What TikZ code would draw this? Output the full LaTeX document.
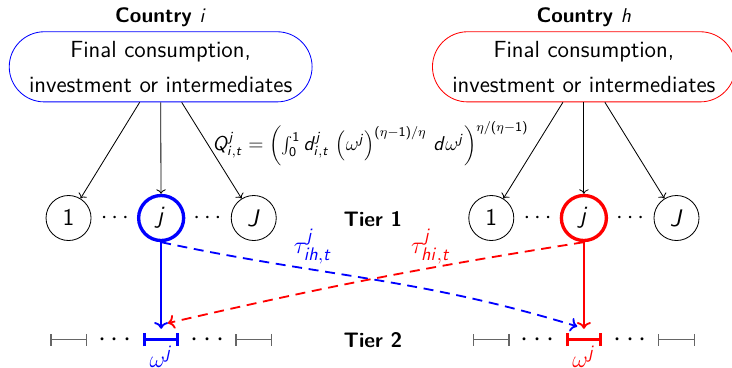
\documentclass[tikz,border=0pt]{standalone}
\usepackage{tikz}
\usetikzlibrary{positioning, arrows.meta, calc}
\DeclareSymbolFont{sfslant}{OT1}{cmss}{m}{sl}
\SetSymbolFont{operators}{normal}{OT1}{cmss}{m}{n}
\newcommand{\sfletter}[1]{\DeclareMathSymbol{#1}{\mathalpha}{sfslant}{`#1}}
\sfletter{Q}\sfletter{J}\sfletter{d}\sfletter{h}\sfletter{i}\sfletter{j}\sfletter{t}
\definecolor{barGray}{HTML}{666666}

\begin{document}
\begin{tikzpicture}[font=\fontsize{14.3}{17}\selectfont\sffamily,
  goal/.style={draw, line width=0.5pt, rounded corners=0.74cm, minimum width=6.39cm, minimum height=1.48cm, align=center, font=\fontsize{14}{21}\selectfont\sffamily},
  ttl/.style={font=\fontsize{12.6}{15}\selectfont\sffamily\bfseries},
  var/.style={draw, circle, line width=0.5pt, minimum size=0.95cm, inner sep=0pt},
  hot/.style={var, line width=2pt},
  bar/.style={minimum width=0.76cm, minimum height=0.45cm, inner sep=0pt},
  barline/.style={barGray, line width=0.8pt, {Bar[width=7pt]}-{Bar[width=7pt]}},
  hotbar/.style={line width=1.8pt, {Bar[width=8pt]}-{Bar[width=8pt]}},
  dashlink/.style={->, line width=1.1pt, dash pattern=on 6pt off 4pt}]
\useasboundingbox (0,0) rectangle (15.445,-7.744);
% top level: the two countries
\node[goal, draw=blue] (boxL) at (3.39,-1.41) {Final consumption,\\investment or intermediates};
\node[goal, draw=red] (boxR) at (12.32,-1.41) {Final consumption,\\investment or intermediates};
\node[ttl, above=-1pt of boxL] (ttlL) {Country $i$};
\node[ttl, above=-1pt of boxR] (ttlR) {Country $h$};
\node[font=\fontsize{11.7}{14}\selectfont\sffamily] (qform) at (7.82,-3.03) {$Q^j_{i,t}=\left(\int_0^1 d^j_{i,t}\,\left(\omega^j\right)^{(\eta-1)/\eta}\,d\omega^j\right)^{\eta/(\eta-1)}$};
% tier 1
\node[hot, draw=blue] (jL) at (3.40,-4.60) {$j$};
\node[var, left=0.96cm of jL] (oneL) {$1$};
\node[var, right=0.96cm of jL] (JL) {$J$};
\node[hot, draw=red] (jR) at (12.32,-4.60) {$j$};
\node[var, left=0.96cm of jR] (oneR) {$1$};
\node[var, right=0.96cm of jR] (JR) {$J$};
\node (dotsL1) at ($(oneL)!0.5!(jL)$) {$\cdots$};
\node (dotsL2) at ($(jL)!0.5!(JL)$) {$\cdots$};
\node (dotsR1) at ($(oneR)!0.5!(jR)$) {$\cdots$};
\node (dotsR2) at ($(jR)!0.5!(JR)$) {$\cdots$};
\node[ttl] (tierA) at (7.87,-4.62) {Tier 1};
\draw[->, line width=0.5pt] ([xshift=-0.443cm]boxL.south) -- (oneL);
\draw[->, line width=0.5pt] (boxL.south) -- (jL);
\draw[->, line width=0.5pt] ([xshift=0.443cm]boxL.south) -- (JL);
\draw[->, line width=0.5pt] ([xshift=-0.443cm]boxR.south) -- (oneR);
\draw[->, line width=0.5pt] (boxR.south) -- (jR);
\draw[->, line width=0.5pt] ([xshift=0.443cm]boxR.south) -- (JR);
% tier 2
\node[ttl] (tierB) at (7.87,-7.17) {Tier 2};
\node[bar] (barL1) at (oneL |- tierB) {};
\node[bar] (barLj) at (jL |- tierB) {};
\node[bar] (barLJ) at (JL |- tierB) {};
\node[bar] (barR1) at (oneR |- tierB) {};
\node[bar] (barRj) at (jR |- tierB) {};
\node[bar] (barRJ) at (JR |- tierB) {};
\node[font=\LARGE] (ddotsL1) at ($(barL1)!0.5!(barLj)$) {$\cdots$};
\node[font=\LARGE] (ddotsL2) at ($(barLj)!0.5!(barLJ)$) {$\cdots$};
\node[font=\LARGE] (ddotsR1) at ($(barR1)!0.5!(barRj)$) {$\cdots$};
\node[font=\LARGE] (ddotsR2) at ($(barRj)!0.5!(barRJ)$) {$\cdots$};
\draw[barline] (barL1.west) -- (barL1.east);
\draw[barline] (barLJ.west) -- (barLJ.east);
\draw[barline] (barR1.west) -- (barR1.east);
\draw[barline] (barRJ.west) -- (barRJ.east);
\draw[hotbar, blue] (barLj.west) -- (barLj.east);
\draw[hotbar, red] (barRj.west) -- (barRj.east);
\node[blue, font=\fontsize{15.5}{18}\selectfont, below=-0.22cm of barLj] (omL) {$\omega^j$};
\node[red, font=\fontsize{15.5}{18}\selectfont, below=-0.22cm of barRj] (omR) {$\omega^j$};
% varieties and trade costs
\draw[->, blue, line width=1.1pt] (jL) -- (barLj);
\draw[->, red, line width=1.1pt] (jR) -- (barRj);
\draw[dashlink, blue] (jL.south) to[out=-12, in=163] ([shift={(-0.14,0.05)}]barRj.north);
\draw[dashlink, red] (jR.south) to[out=189, in=13] ([shift={(0.14,0.12)}]barLj.north);
\node[blue, font=\fontsize{15}{18}\selectfont] (tauL) at (6.60,-5.21) {$\tau^j_{ih,t}$};
\node[red, font=\fontsize{15}{18}\selectfont] (tauR) at (9.09,-5.21) {$\tau^j_{hi,t}$};
\end{tikzpicture}
\end{document}
